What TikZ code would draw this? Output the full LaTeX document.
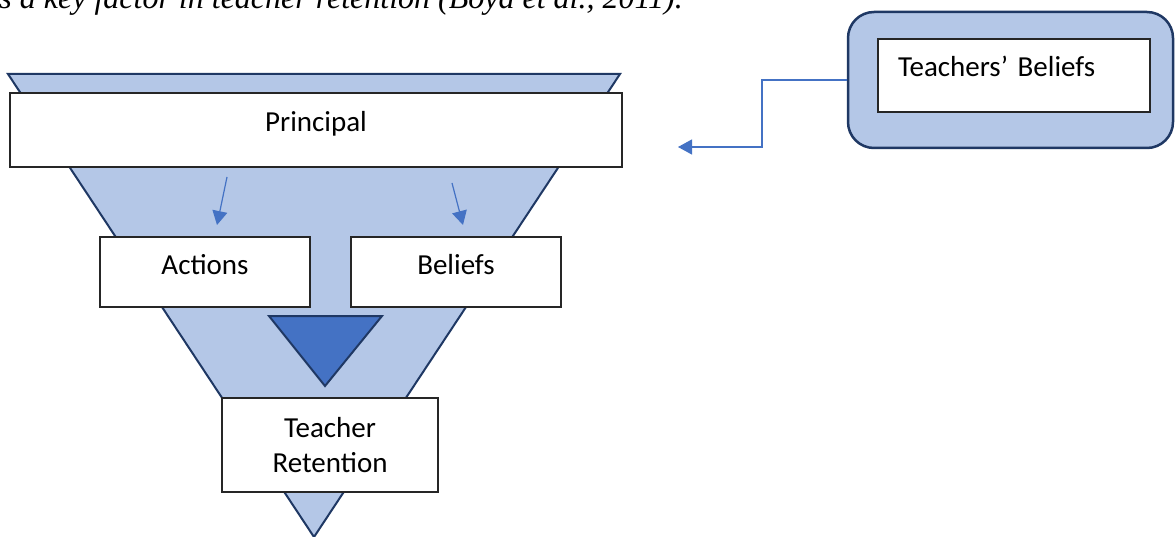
\documentclass[tikz,border=0pt]{standalone}
\usepackage{fontspec}
\setmainfont{Carlito}
\newfontfamily\tnr{Liberation Serif}
\usetikzlibrary{arrows.meta}
\definecolor{lightfill}{HTML}{B4C7E7}
\definecolor{navy}{HTML}{1F3864}
\definecolor{accent}{HTML}{4472C4}
\tikzset{
  funnel/.style={draw=navy, fill=lightfill, line width=2pt, line join=miter},
  whitebox/.style={draw=black!85, fill=white, line width=1.3pt, rectangle, inner sep=0pt,
    font=\fontsize{29}{35}\selectfont},
  outerbox/.style={draw=navy, fill=lightfill, line width=2.5pt, rounded corners=26pt, rectangle, inner sep=0pt},
  conn/.style={draw=accent, line width=1.2pt, -{Triangle[length=14pt,width=15pt]}},
}
\begin{document}
\begin{tikzpicture}[x=1pt,y=-1pt]
\useasboundingbox (0,0) rectangle (1175,537);
\clip (0,0) rectangle (1175,537);
\fill[white] (0,0) rectangle (1175,537);
% cut-off caption text at the top
\node[font=\tnr\itshape\fontsize{32}{37}\selectfont, anchor=base east, inner sep=0pt] (cap) at (683,9)
  {s a key factor in teacher retention (Boyd et al., 2011).};
% funnel
\draw[funnel] (8,74) -- (620,74) -- (314,537) -- cycle;
\draw[funnel, fill=accent] (269,316) -- (382,316) -- (325,386) -- cycle;
% boxes
\node[whitebox, minimum width=612pt, minimum height=74pt, text height=20pt, text depth=16pt] (principal) at (316,130) {Principal};
\node[whitebox, minimum width=210pt, minimum height=70pt, text height=20pt, text depth=14pt] (actions) at (205,272) {Actions};
\node[whitebox, minimum width=210pt, minimum height=70pt, text height=20pt, text depth=14pt] (beliefs) at (456,272) {Beliefs};
\node[whitebox, minimum width=216pt, minimum height=94pt, align=center] (retention) at (330,445) {Teacher\\Retention};
% teachers' beliefs
\node[outerbox, minimum width=325pt, minimum height=136pt] (tbout) at (1010.5,80) {};
\node[whitebox, minimum height=73pt, text width=232pt, align=left, inner xsep=20pt, text height=20pt, text depth=17pt] (tbin) at (1014,75.5) {Teachers’ Beliefs};
% connectors
\coordinate (tip) at (678,147);
\draw[conn] (tbout.west) -- (762,80) -- (762,147) -- (tip);
\coordinate (a1) at (227,177);
\coordinate (a2) at (217,225);
\coordinate (b1) at (452,183);
\coordinate (b2) at (463,225);
\draw[conn] (a1) -- (a2);
\draw[conn] (b1) -- (b2);
\end{tikzpicture}
\end{document}
